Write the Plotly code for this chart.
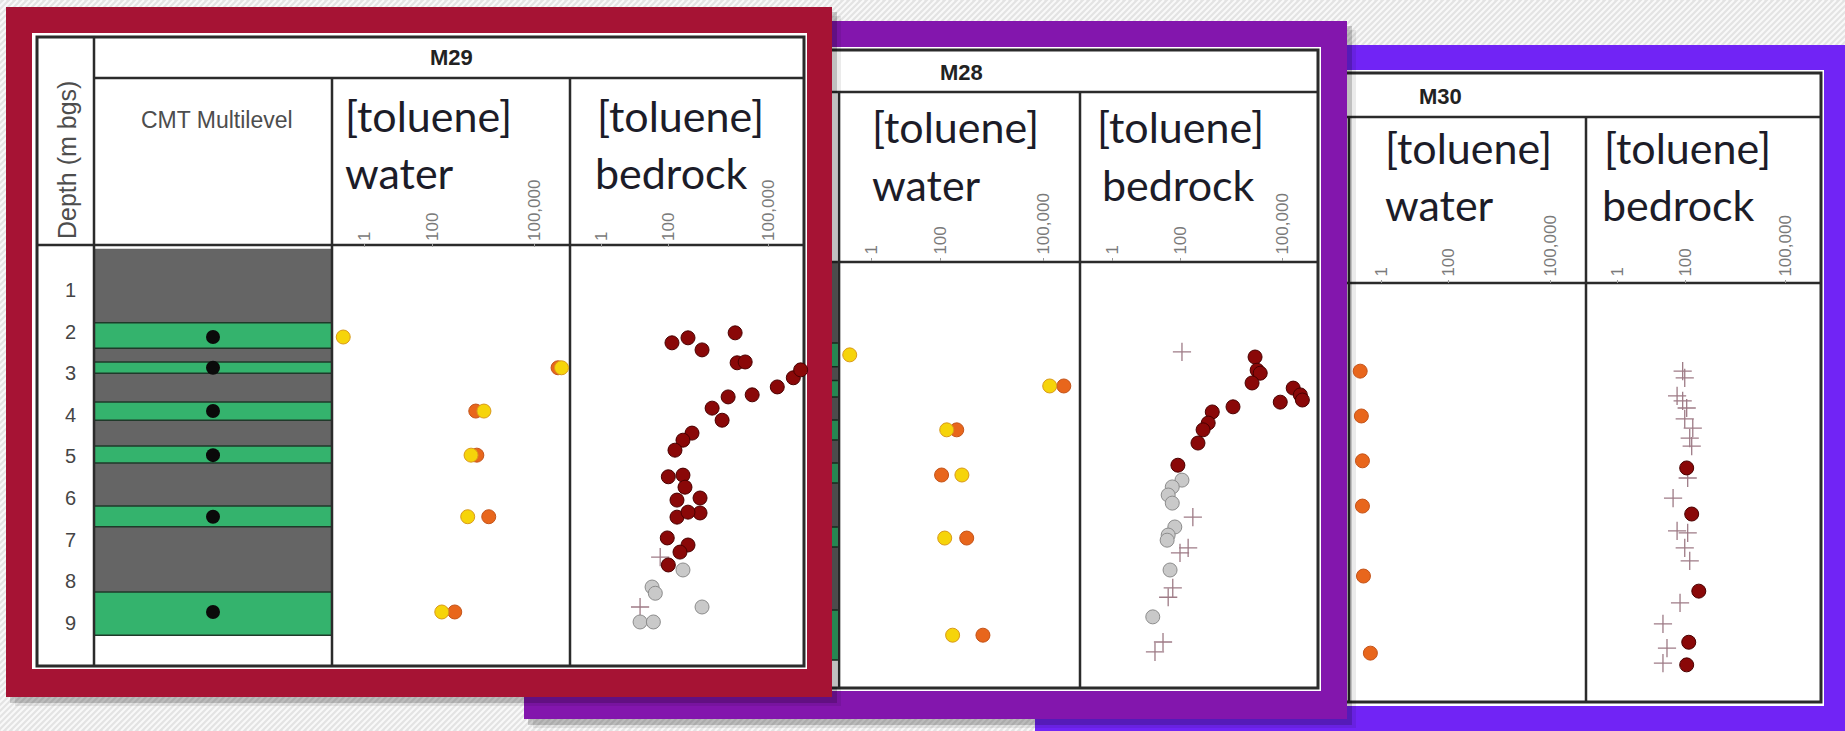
import plotly.graph_objects as go

W, H = 1845, 731

# ---------------- data ----------------
depth_ticks = [1, 2, 3, 4, 5, 6, 7, 8, 9]
conc_tickvals = [1, 100, 100000]
conc_ticktext = ["1", "100", "100,000"]
conc_range_log = [-0.95, 6.05]
depth_range = [10, 0]

well_names = ["M29", "M28", "M30"]
header_line1 = "[toluene]"
header_water = "water"
header_bedrock = "bedrock"
cmt_label = "CMT Multilevel"
depth_label = "Depth (m bgs)"

# CMT multilevel well construction (depth, m bgs)
m29_port_depth = [2.13, 2.87, 3.91, 4.97, 6.45, 8.74]
m29_screen_top = [1.79, 2.73, 3.69, 4.75, 6.19, 8.26]
m29_screen_bottom = [2.40, 3.00, 4.13, 5.16, 6.69, 9.30]
m29_seal_bottom = 8.26
m28_screen_top = [1.90, 2.78, 3.71, 4.72, 6.22, 8.17]
m28_screen_bottom = [2.46, 3.17, 4.18, 5.19, 6.69, 9.34]
m28_seal_bottom = 8.17

# M29 toluene in water (two sampling series)
m29_water_yel_depth = [2.13, 2.87, 3.91, 4.97, 6.45, 8.74]
m29_water_yel_conc = [0.24, 631000, 3300, 1380, 1100, 190]
m29_water_org_depth = [2.87, 3.91, 4.97, 6.45, 8.74]
m29_water_org_conc = [500000, 1900, 2040, 4570, 457]

# M29 toluene in bedrock
m29_rock_red_depth = [2.27, 2.15, 2.44, 2.03, 2.75, 2.73, 3.33, 3.11, 2.92, 3.84, 4.13, 3.57, 3.52,
                      4.44, 4.61, 4.85, 5.49, 5.45, 5.74, 6.05, 6.00, 6.36, 6.46, 6.34, 6.96, 7.13,
                      7.30, 7.61]
m29_rock_red_conc = [126, 380, 1000, 9770, 11200, 19500, 178000, 537000, 891000, 2000, 3980, 6030,
                     31600, 501, 269, 155, 98, 269, 309, 178, 871, 871, 178, 380, 91, 380, 219, 98]
m29_rock_grey_depth = [7.73, 8.14, 8.29, 8.62, 8.98, 8.98]
m29_rock_grey_conc = [269, 32, 40, 1000, 14, 35]
m29_rock_cross_depth = [7.42, 8.62]
m29_rock_cross_conc = [56, 14]

# M28 toluene in water
m28_water_yel_depth = [2.18, 2.91, 3.94, 5.00, 6.48, 8.76]
m28_water_yel_conc = [0.23, 148000, 151, 417, 132, 224]
m28_water_org_depth = [2.91, 3.94, 5.00, 6.48, 8.76]
m28_water_org_conc = [380000, 295, 107, 575, 1700]

# M28 toluene in bedrock
m28_rock_red_depth = [2.23, 2.54, 2.61, 2.84, 2.96, 3.12, 3.24, 3.29, 3.40, 3.52, 3.78, 3.94, 4.25, 4.77]
m28_rock_red_conc = [15800, 18200, 22400, 12900, 209000, 339000, 389000, 87000, 3550, 871, 661, 468,
                     331, 85]
m28_rock_grey_depth = [5.12, 5.28, 5.47, 5.66, 6.22, 6.41, 6.53, 7.23, 8.33]
m28_rock_grey_conc = [112, 58, 44, 58, 69, 44, 41, 50, 15.5]
m28_rock_cross_depth = [2.11, 5.99, 6.71, 6.83, 7.65, 7.87, 8.92, 9.15]
m28_rock_cross_conc = [112, 234, 170, 98, 60, 44, 31, 18]

# M30 toluene in water
m30_water_org_depth = [2.08, 3.15, 4.22, 5.30, 6.97, 8.81]
m30_water_org_conc = [0.24, 0.26, 0.28, 0.28, 0.30, 0.48]

# M30 toluene in bedrock
m30_rock_red_depth = [4.39, 5.49, 7.33, 8.55, 9.09]
m30_rock_red_conc = [112, 158, 257, 129, 112]
m30_rock_cross_depth = [2.08, 2.24, 2.67, 2.79, 2.96, 3.22, 3.44, 3.68, 3.87, 4.63, 5.11, 5.89, 5.94,
                        6.30, 6.61, 7.61, 8.11, 8.69, 9.05]
m30_rock_cross_conc = [85, 98, 58, 85, 112, 98, 170, 138, 158, 120, 44, 58, 120, 98, 138, 71, 22, 29, 22]

# ---------------- styles ----------------
C_M29, C_M28, C_M30 = "#a61334", "#8316ad", "#7124f5"
LINE_C = "#2b2b2b"
GREEN = "#34b36d"
SEAL = "#656565"
HEAD_FONT = dict(family="Lato, Open Sans, sans-serif", size=43, color="#1c1c28")
SMALL_FONT = "Liberation Sans, Arial, sans-serif"

MK_YEL = dict(size=14, color="#f6d40a", line=dict(color="#d99a1b", width=1))
MK_ORG = dict(size=14, color="#e8661c", line=dict(color="#c4541a", width=1))
MK_RED = dict(size=14, color="#8a0808", line=dict(color="#4a0000", width=1))
MK_GRY = dict(size=14, color="#c9c9c9", line=dict(color="#8c8c8c", width=1))
MK_CRS = dict(symbol="cross-thin", size=13, line=dict(color="#9e7b86", width=1.3))
MK_BLK = dict(size=14, color="#0a0a0a")


def fx(x):
    return x / W


def fy(y):
    return 1 - y / H


shapes = []


def rect(x0, y0, x1, y1, fill, lw=0, lc=None):
    shapes.append(dict(type="rect", xref="paper", yref="paper", x0=fx(x0), x1=fx(x1),
                       y0=fy(y1), y1=fy(y0), fillcolor=fill, layer="below",
                       line=dict(width=lw, color=lc or "rgba(0,0,0,0)")))


def seg(x0, y0, x1, y1, w=2.5, c=LINE_C):
    shapes.append(dict(type="line", xref="paper", yref="paper", x0=fx(x0), x1=fx(x1),
                       y0=fy(y0), y1=fy(y1), line=dict(width=w, color=c), layer="below"))


def band(x0, x1, d0, d1, yref, fill, lw=0, lc=None):
    shapes.append(dict(type="rect", xref="paper", yref=yref, x0=fx(x0), x1=fx(x1),
                       y0=d0, y1=d1, fillcolor=fill, layer="below",
                       line=dict(width=lw, color=lc or "rgba(0,0,0,0)")))


# hatched background
step = 6
parts = []
x = -H
while x < W + step:
    parts.append(f"M{fx(x):.5f},{fy(H):.5f}L{fx(x + H):.5f},{fy(0):.5f}")
    x += step
shapes.append(dict(type="path", xref="paper", yref="paper", path="".join(parts),
                   line=dict(color="#f9f9f9", width=2), layer="below"))


def frame(x0, y0, x1, y1, color, inner):
    rect(x0 + 9, y0 + 9, x1 + 9, y1 + 9, "rgba(0,0,0,0.08)")
    rect(x0 + 4, y0 + 5, x1 + 5, y1 + 6, "rgba(0,0,0,0.18)")
    rect(x0, y0, x1, y1, color)
    rect(*inner, "#ffffff")


def cmt(x0, x1, yref, seal_bottom, tops, bottoms):
    band(x0, x1, 0, seal_bottom, yref, SEAL)
    for t, b in zip(tops, bottoms):
        band(x0, x1, t, b, yref, GREEN, 1.5, "#1f3a2a")


# ---- M30 (back) ----
frame(1035, 45, 1860, 740, C_M30, (1058, 70, 1824, 706))
rect(1052, 73, 1821, 702, "rgba(0,0,0,0)", 3, LINE_C)
seg(1111, 117, 1821, 117)
seg(1052, 283, 1821, 283)
seg(1349, 117, 1349, 702)
seg(1586, 117, 1586, 702)

# ---- M28 (middle) ----
frame(524, 21, 1347, 719, C_M28, (546, 47, 1321, 691))
cmt(607, 839, "y2", m28_seal_bottom, m28_screen_top, m28_screen_bottom)
rect(548, 50, 1318, 688, "rgba(0,0,0,0)", 3, LINE_C)
seg(607, 50, 607, 688)
seg(607, 92, 1318, 92)
seg(548, 262, 1318, 262)
seg(839, 92, 839, 688)
seg(1080, 92, 1080, 688)

# ---- M29 (front) ----
frame(6, 7, 832, 697, C_M29, (32, 33, 807, 669))
cmt(94, 332, "y", m29_seal_bottom, m29_screen_top, m29_screen_bottom)
rect(37, 37, 804, 666, "rgba(0,0,0,0)", 3, LINE_C)
seg(94, 37, 94, 666)
seg(94, 78, 804, 78)
seg(37, 245, 804, 245)
seg(332, 78, 332, 666)
seg(570, 78, 570, 666)

# ---------------- axes ----------------
layout_axes = {}


def conc_axis(x0, x1, anchor):
    return dict(domain=[fx(x0), fx(x1)], type="log", range=conc_range_log, side="top",
                anchor=anchor, showgrid=False, zeroline=False, showline=False,
                tickvals=conc_tickvals, ticktext=conc_ticktext, tickangle=-90,
                ticks="outside", ticklen=3, tickcolor="#9a9a9a",
                tickfont=dict(family=SMALL_FONT, size=17, color="#7a7a7a"))


def depth_axis(top, bottom, anchor, visible):
    d = dict(domain=[fy(bottom), fy(top)], range=depth_range, anchor=anchor,
             showgrid=False, zeroline=False, showline=False, visible=visible)
    if visible:
        d.update(tickvals=depth_ticks, ticks="", ticklabelstandoff=17,
                 tickfont=dict(family=SMALL_FONT, size=20, color="#454545"))
    return d


layout_axes["xaxis"] = dict(domain=[fx(94), fx(332)], range=[0, 1], anchor="y", visible=False)
layout_axes["xaxis2"] = conc_axis(332, 570, "y")
layout_axes["xaxis3"] = conc_axis(570, 804, "y")
layout_axes["xaxis4"] = conc_axis(839, 1080, "y2")
layout_axes["xaxis5"] = conc_axis(1080, 1318, "y2")
layout_axes["xaxis6"] = conc_axis(1349, 1586, "y3")
layout_axes["xaxis7"] = conc_axis(1586, 1821, "y3")
layout_axes["yaxis"] = depth_axis(248.4, 664.4, "x", True)
layout_axes["yaxis2"] = depth_axis(262, 688, "x4", False)
layout_axes["yaxis3"] = depth_axis(284, 703, "x6", False)

fig = go.Figure()


def pts(xs, ys, xa, ya, mk):
    fig.add_trace(go.Scatter(x=xs, y=ys, mode="markers", xaxis=xa, yaxis=ya, marker=mk,
                             cliponaxis=False, showlegend=False, hoverinfo="skip"))


# CMT ports
pts([0.5] * len(m29_port_depth), m29_port_depth, "x", "y", MK_BLK)
# M29
pts(m29_water_org_conc, m29_water_org_depth, "x2", "y", MK_ORG)
pts(m29_water_yel_conc, m29_water_yel_depth, "x2", "y", MK_YEL)
pts(m29_rock_cross_conc, m29_rock_cross_depth, "x3", "y", MK_CRS)
pts(m29_rock_grey_conc, m29_rock_grey_depth, "x3", "y", MK_GRY)
pts(m29_rock_red_conc, m29_rock_red_depth, "x3", "y", MK_RED)
# M28
pts(m28_water_org_conc, m28_water_org_depth, "x4", "y2", MK_ORG)
pts(m28_water_yel_conc, m28_water_yel_depth, "x4", "y2", MK_YEL)
pts(m28_rock_cross_conc, m28_rock_cross_depth, "x5", "y2", MK_CRS)
pts(m28_rock_grey_conc, m28_rock_grey_depth, "x5", "y2", MK_GRY)
pts(m28_rock_red_conc, m28_rock_red_depth, "x5", "y2", MK_RED)
# M30
pts(m30_water_org_conc, m30_water_org_depth, "x6", "y3", MK_ORG)
pts(m30_rock_cross_conc, m30_rock_cross_depth, "x7", "y3", MK_CRS)
pts(m30_rock_red_conc, m30_rock_red_depth, "x7", "y3", MK_RED)

# ---------------- text ----------------
annotations = []


def txt(s, x, y, font, xanchor="left", angle=0):
    annotations.append(dict(text=s, x=fx(x), y=fy(y), xref="paper", yref="paper",
                            xanchor=xanchor, yanchor="middle", showarrow=False,
                            font=font, textangle=angle))


title_font = dict(family=SMALL_FONT, size=22, color="#222222")
txt("<b>" + well_names[0] + "</b>", 451, 57, title_font, "center")
txt("<b>" + well_names[1] + "</b>", 961, 72, title_font, "center")
txt("<b>" + well_names[2] + "</b>", 1440, 96, title_font, "center")
txt(cmt_label, 217, 120, dict(family=SMALL_FONT, size=23, color="#4d4d4d"), "center")
txt(depth_label, 67, 160, dict(family=SMALL_FONT, size=25, color="#4d4d4d"), "center", -90)

for (xa, ya, xb, yb, word) in [
    (343, 116, 343, 172, header_water), (595, 116, 593, 172, header_bedrock),
    (870, 127, 870, 184, header_water), (1095, 127, 1100, 184, header_bedrock),
    (1383, 147, 1383, 204, header_water), (1602, 147, 1600, 204, header_bedrock),
]:
    txt(header_line1, xa, ya, HEAD_FONT)
    txt(word, xb, yb, HEAD_FONT)

fig.update_layout(
    width=W, height=H, autosize=False,
    margin=dict(l=0, r=0, t=0, b=0, pad=0),
    paper_bgcolor="#e3e3e3", plot_bgcolor="rgba(0,0,0,0)",
    shapes=shapes, annotations=annotations, showlegend=False,
    **layout_axes,
)

fig.write_html("out.html", config={"displayModeBar": False},
               post_script="document.body.style.margin='0';document.body.style.overflow='hidden';")
